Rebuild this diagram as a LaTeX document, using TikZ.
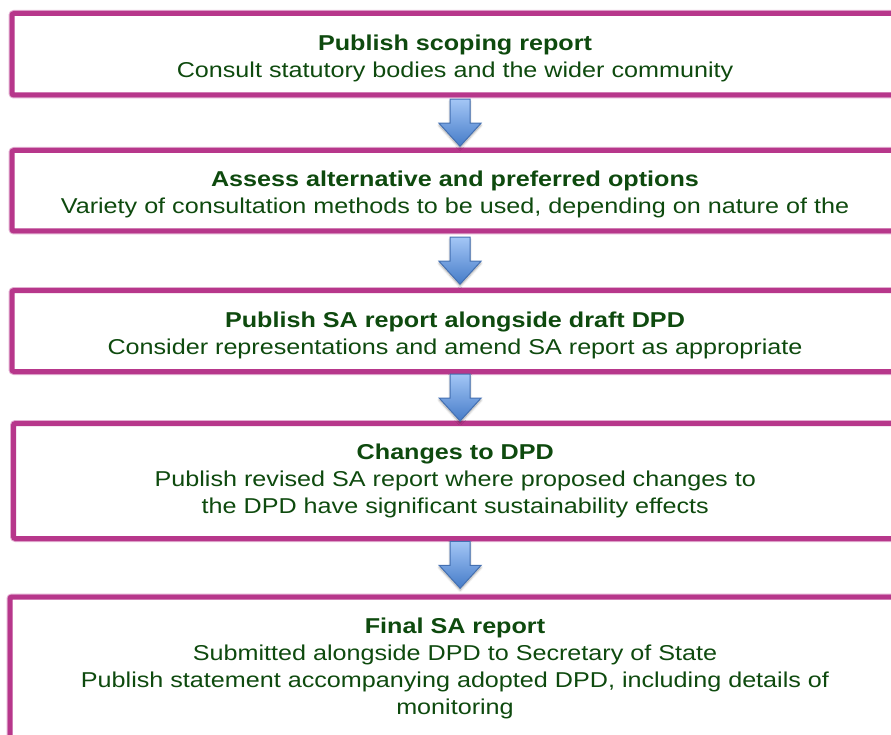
\documentclass[tikz,border=0pt]{standalone}
\usepackage{fontspec}
\setmainfont{Liberation Sans}[FakeStretch=1.17]
\usetikzlibrary{calc,shadows.blur}

\definecolor{boxrim}{RGB}{183,55,139}
\definecolor{boxtext}{RGB}{14,74,14}
\definecolor{arrowtop}{RGB}{163,198,246}
\definecolor{arrowbot}{RGB}{70,124,200}
\definecolor{arrowrim}{RGB}{68,112,178}

% taller first line, pushes the two-line texts down a little
\newcommand{\stagehead}[1]{\textbf{\rule{0pt}{23.5pt}#1}}

\begin{document}
\begin{tikzpicture}[x=1pt, y=-1pt,
    stage/.style={draw=boxrim, line width=5pt, rounded corners=2pt, fill=white,
        text=boxtext, align=center, inner sep=0pt, minimum width=886pt,
        font=\fontsize{21.5}{27}\selectfont,
        preaction={draw=boxrim!40, line width=7pt}},
    downarrow/.pic={
        \path[draw=arrowrim, line width=1pt, top color=arrowtop, bottom color=arrowbot,
            blur shadow={shadow xshift=0pt, shadow yshift=-2pt, shadow opacity=35, shadow blur steps=6}]
            (-10,-23.5) -- (10,-23.5) -- (10,0.5) -- (21,0.5) -- (0,23.5)
            -- (-21,0.5) -- (-10,0.5) -- cycle;
    }]
    \useasboundingbox (0,0) rectangle (891,735);

    \node[stage, minimum height=81.5pt] (S1) at (455,54.25)
        {\stagehead{Publish scoping report}\\Consult statutory bodies and the wider community};
    \node[stage, minimum height=80.5pt] (S2) at (455,190.75)
        {\stagehead{Assess alternative and preferred options}\\Variety of consultation methods to be used, depending on nature of the};
    \node[stage, minimum height=81pt] (S3) at (455,331)
        {\stagehead{Publish SA report alongside draft DPD}\\Consider representations and amend SA report as appropriate};
    \node[stage, minimum height=115pt, minimum width=883.5pt] (S4) at (455.25,481)
        {\textbf{Changes to DPD}\\Publish revised SA report where proposed changes to\\the DPD have significant sustainability effects};
    \node[stage, minimum height=143pt, minimum width=890pt] (S5) at (455,668.5)
        {\textbf{Final SA report}\\Submitted alongside DPD to Secretary of State\\Publish statement accompanying adopted DPD, including details of\\monitoring};

    % block arrows between the stages
    \foreach \a/\b/\dy in {S1/S2/0, S2/S3/0, S3/S4/0, S4/S5/-3}
        \pic at ($(\a.south)!0.5!(\b.north)+(5,\dy)$) {downarrow};
\end{tikzpicture}
\end{document}
